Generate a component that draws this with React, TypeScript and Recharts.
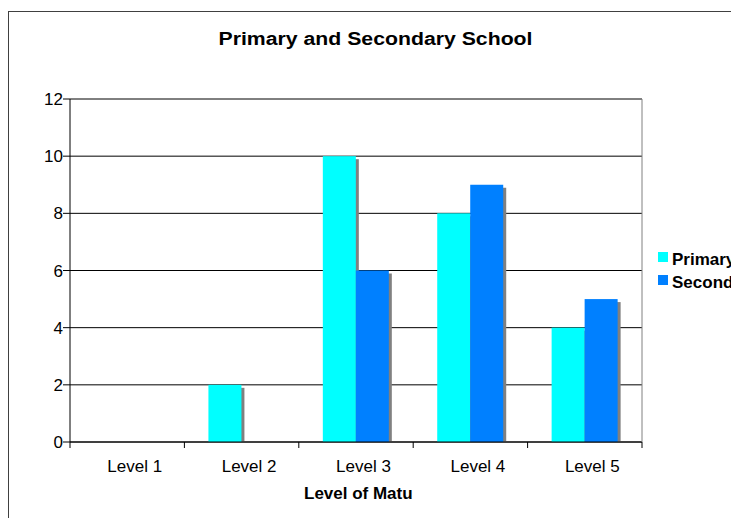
import React from "react";
import { BarChart, Bar, XAxis, YAxis, CartesianGrid } from "recharts";

const categories = ["Level 1", "Level 2", "Level 3", "Level 4", "Level 5"];
const primary = [0, 2, 10, 8, 4];
const secondary = [0, 0, 6, 9, 5];
const yTicks = [0, 2, 4, 6, 8, 10, 12];

const seriesNames = ["Primary", "Secondary"];
const seriesColors = ["#00FFFF", "#0080FF"];

const data = categories.map((level, i) => ({
  level,
  primary: primary[i],
  secondary: secondary[i]
}));

const FONT = "'Liberation Sans', Arial, Helvetica, sans-serif";
const CHART_W = 731;
const CHART_H = 510;
const PLOT_W = 572;
const BAND = PLOT_W / categories.length;

// bar with a grey drop shadow, like the old Excel look
const ShadowBar = (props: any) => {
  const { x, y, width, height, fill } = props;
  if (!height || height <= 0) return <g />;
  return (
    <g>
      <rect x={x + 3} y={y + 3} width={width} height={Math.max(height - 3, 0)} fill="#808080" />
      <rect x={x} y={y} width={width} height={height} fill={fill} />
    </g>
  );
};

// category label (sits a bit right of centre), tick marks on the band edges
const LevelTick = (props: any) => {
  const { x, y, payload, index } = props;
  const left = x - BAND / 2;
  const right = x + BAND / 2;
  return (
    <g>
      <line x1={left} y1={y} x2={left} y2={y + 6} stroke="#000" />
      {index === categories.length - 1 && (
        <line x1={right} y1={y} x2={right} y2={y + 6} stroke="#000" />
      )}
      <text x={x + 7.5} y={y + 30} textAnchor="middle" fontSize={17} fontFamily={FONT} fill="#000">
        {payload.value}
      </text>
    </g>
  );
};

const AxisTitle = (props: any) => {
  const { viewBox } = props;
  const x0 = viewBox.x + 234;
  const clipRight = viewBox.x + 343;
  const baseY = viewBox.y + 57;
  return (
    <g>
      <defs>
        <clipPath id="xTitleClip">
          <rect x={x0 - 5} y={baseY - 20} width={clipRight - x0 + 5} height={30} />
        </clipPath>
      </defs>
      <text
        x={x0}
        y={baseY}
        fontSize={17}
        fontWeight="bold"
        fontFamily={FONT}
        fill="#000"
        clipPath="url(#xTitleClip)"
      >
        Level of Maturity
      </text>
    </g>
  );
};

export default function App() {
  return (
    <div style={{ position: "relative", width: CHART_W, height: CHART_H, overflow: "hidden" }}>
      <div
        style={{
          position: "absolute",
          left: 0,
          top: 3,
          width: 900,
          height: 700,
          borderLeft: "1px solid #404040",
          borderTop: "1px solid #404040"
        }}
      />
      <div
        style={{
          position: "absolute",
          left: 2,
          top: 21,
          width: CHART_W,
          textAlign: "center",
          fontFamily: FONT,
          fontWeight: "bold",
          fontSize: 18,
          lineHeight: "20px",
          transform: "scaleX(1.18)",
          transformOrigin: "50% 50%",
          color: "#000"
        }}
      >
        Primary and Secondary School
      </div>
      <div style={{ position: "absolute", left: 0, top: 0 }}>
        <BarChart
          width={CHART_W}
          height={CHART_H}
          data={data}
          margin={{ top: 91, right: 96, left: 22, bottom: 36 }}
          barCategoryGap="21%"
          barGap={0}
        >
          <CartesianGrid vertical={false} stroke="#000" />
          <XAxis
            dataKey="level"
            height={40}
            tickSize={0}
            tickMargin={0}
            tick={<LevelTick />}
            axisLine={{ stroke: "#000" }}
            tickLine={false}
            interval={0}
            label={{ content: <AxisTitle /> } as any}
          />
          <YAxis
            domain={[0, 12]}
            ticks={yTicks}
            width={40}
            tickSize={7}
            tickMargin={0}
            interval={0}
            axisLine={{ stroke: "#000" }}
            tickLine={{ stroke: "#000" }}
            tick={{ fontSize: 17, fontFamily: FONT, fill: "#000" }}
          />
          <YAxis
            yAxisId="right"
            orientation="right"
            width={1}
            tick={false}
            tickLine={false}
            axisLine={{ stroke: "#808080" }}
          />
          <Bar
            dataKey="primary"
            name={seriesNames[0]}
            fill={seriesColors[0]}
            shape={<ShadowBar />}
            isAnimationActive={false}
          />
          <Bar
            dataKey="secondary"
            name={seriesNames[1]}
            fill={seriesColors[1]}
            shape={<ShadowBar />}
            isAnimationActive={false}
          />
        </BarChart>
      </div>
      <div style={{ position: "absolute", left: 650, top: 240, fontFamily: FONT }}>
        {seriesNames.map((name, i) => (
          <div
            key={name}
            style={{
              display: "flex",
              alignItems: "flex-start",
              height: 23,
              lineHeight: "23px",
              fontSize: 17,
              fontWeight: "bold",
              whiteSpace: "nowrap",
              color: "#000"
            }}
          >
            <span
              style={{
                display: "inline-block",
                width: 10,
                height: 10,
                marginTop: 4,
                marginRight: 4,
                background: seriesColors[i]
              }}
            />
            {name}
          </div>
        ))}
      </div>
    </div>
  );
}
